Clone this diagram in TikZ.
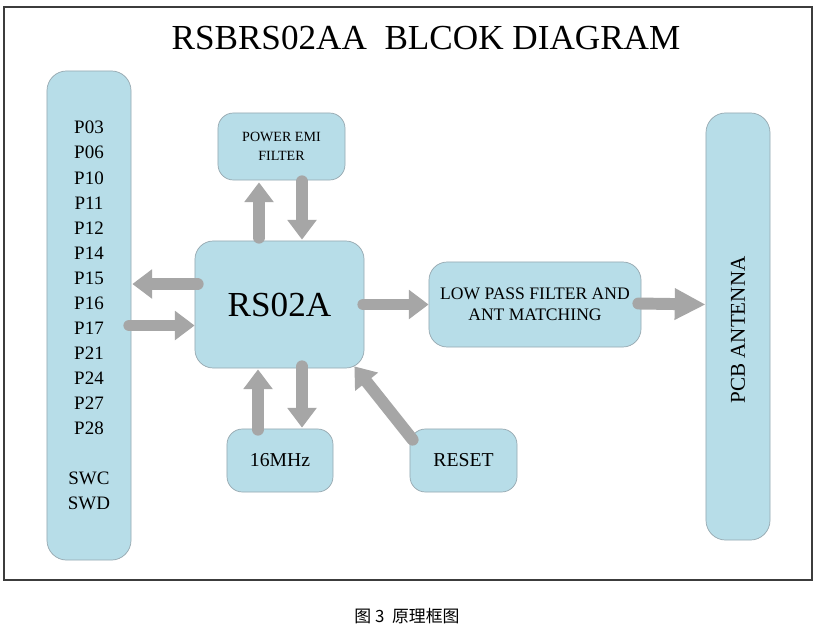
\documentclass[tikz,border=0pt]{standalone}
\usepackage{fontspec}
\setmainfont{Liberation Serif}
\newfontfamily\cjkfont{Noto Sans CJK SC}
\usepackage{tikz}
\usetikzlibrary{arrows.meta, calc}
\definecolor{boxblue}{RGB}{183,221,232}
\definecolor{boxedge}{RGB}{150,168,176}
\definecolor{arrowgray}{RGB}{166,166,166}
\definecolor{framegray}{RGB}{60,60,60}
\tikzset{
  block/.style={rectangle, draw=boxedge, fill=boxblue, align=center, inner sep=2pt,
    rounded corners=11pt, line width=0.5pt},
  fatarrow/.style={draw=arrowgray, line width=8.5pt, line cap=round,
    -{Triangle[length=14pt, width=20pt]}},
  longarrow/.style={fatarrow, -{Triangle[length=22pt, width=21pt]}}
}

\begin{document}
\begin{tikzpicture}[x=0.025cm, y=-0.025cm,
  pinbox/.style={block, rounded corners=14pt, minimum width=2.1cm, minimum height=12.225cm, font=\fontsize{13.5}{17.8}\selectfont},
  small/.style={block, minimum width=2.65cm, minimum height=1.575cm, font=\fontsize{14}{16}\selectfont}
]
\useasboundingbox[fill=white] (0,0) rectangle (817,626);
\draw[framegray, line width=0.8pt] (4,7) rectangle (812,580);

\node[font=\fontsize{25}{30}\selectfont] (title) at (426,38) {RSBRS02AA\ \ BLCOK DIAGRAM};

\node[pinbox] (ports) at (89,315.5)
  {P03\\P06\\P10\\P11\\P12\\P14\\P15\\P16\\P17\\P21\\P24\\P27\\P28\\[17.8pt]SWC\\SWD};
\node[block, minimum width=3.175cm, minimum height=1.675cm, font=\fontsize{10}{13.5}\selectfont]
  (emi) at (281.5,146.5) {POWER EMI\\FILTER};
\node[block, rounded corners=13pt, minimum width=4.225cm, minimum height=3.175cm, font=\fontsize{25}{30}\selectfont]
  (rs) at (279.5,304.5) {RS02A};
\node[small] (osc) at (280,460.5) {16MHz};
\node[small, minimum width=2.675cm] (rst) at (463.5,460.5) {RESET};
\node[block, rounded corners=13pt, minimum width=5.3cm, minimum height=2.125cm, font=\fontsize{12.5}{15}\selectfont]
  (lpf) at (535,304.5) {LOW PASS FILTER AND\\ANT MATCHING};
\node[block, rounded corners=14pt, minimum width=1.6cm, minimum height=10.675cm] (ant) at (738,326.5) {};
\node[rotate=90, font=\fontsize{15}{18}\selectfont] (antlabel) at (738,330) {PCB ANTENNA};

% ports <-> chip
\draw[fatarrow] ($(rs.west)+(3,-20.5)$) -- ($(ports.east)+(1,-31.5)$);
\draw[fatarrow] ($(ports.east)+(-2,10)$) -- ($(rs.west)+(0,21)$);

% power filter
\draw[fatarrow] ($(rs.north)+(-20.5,-3)$) -- ($(emi.south)+(-22.5,2)$);
\draw[fatarrow] ($(emi.south)+(20.5,1)$) -- ($(rs.north)+(22.5,-1)$);

% crystal
\draw[fatarrow] ($(osc.north)+(-22,1)$) -- ($(rs.south)+(-21.5,1)$);
\draw[fatarrow] ($(rs.south)+(22.5,-2)$) -- ($(osc.north)+(22,-1)$);

% reset and rf path
\draw[fatarrow] ($(rst.north west)+(3,11)$) -- ($(rs.south east)+(-10,-2)$);
\draw[fatarrow] ($(rs.east)+(-1,0)$) -- (lpf.west);
\draw[longarrow] ($(lpf.east)+(-3,-1)$) -- (ant.west |- lpf.east);

\node[font=\cjkfont\fontsize{12}{14}\selectfont] (caption) at (407,616) {图 3\ \ 原理框图};
\end{tikzpicture}
\end{document}
